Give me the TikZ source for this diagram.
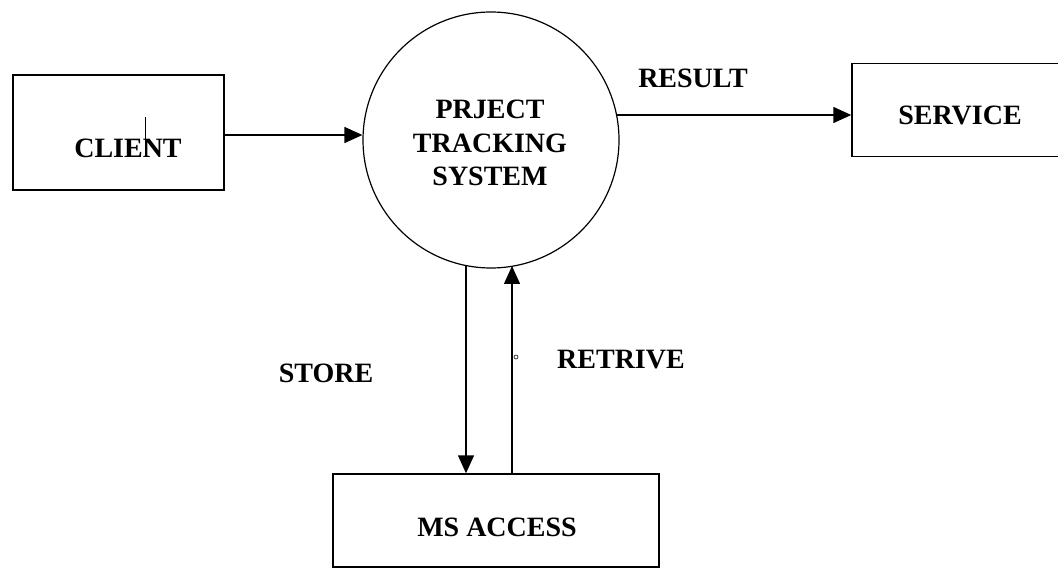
\documentclass[tikz,border=0pt]{standalone}
\usepackage{fontspec}
\setmainfont{Liberation Serif}
\usetikzlibrary{arrows.meta}
\begin{document}
\begin{tikzpicture}[x=1pt,y=-1pt,
  box/.style={draw=black,line width=1.4pt,rectangle,inner sep=0pt},
  proc/.style={draw=black,line width=1.2pt,circle,inner sep=0pt,minimum size=256pt},
  lbl/.style={font=\fontsize{28}{33.5}\selectfont\bfseries,inner sep=0pt,align=center},
  flow/.style={line width=1.4pt,-{Triangle[length=18pt,width=16pt]}}]
\useasboundingbox (0,0) rectangle (1058,572);
\clip (0,0) rectangle (1058,572);
% nodes
\node[box,minimum width=211pt,minimum height=115pt] (client) at (118.5,132.5) {};
\node[lbl] (clienttext) at (128,148) {CLIENT};
\node[proc] (pts) at (491,140) {};
\node[lbl] (ptstext) at (490,143) {PRJECT\\TRACKING\\SYSTEM};
\node[box,minimum width=230pt,minimum height=93pt] (service) at (967,110) {};
\node[lbl] (servicetext) at (960,115) {SERVICE};
\node[box,minimum width=326pt,minimum height=93pt] (msaccess) at (496,520.5) {};
\node[lbl] (mstext) at (497,527) {MS ACCESS};
% labels
\node[lbl] (result) at (693,78) {RESULT};
\node[lbl] (store) at (326,373) {STORE};
\node[lbl] (retrive) at (621,360) {RETRIVE};
% connectors
\draw[flow] (client.east |- 0,135) -- (pts.west |- 0,135);
\coordinate (r1) at (617,115);
\draw[flow] (r1) -- (service.west |- r1);
\coordinate (s1) at (466,265.5);
\draw[flow] (s1) -- (s1 |- msaccess.north);
\coordinate (t1) at (512,266);
\draw[flow] (t1 |- msaccess.north) -- (t1);
% scan artefacts
\draw[line width=0.6pt] (145,117) -- (145,157);
\draw[line width=0.6pt] (516,357) circle (2pt);
\end{tikzpicture}
\end{document}
